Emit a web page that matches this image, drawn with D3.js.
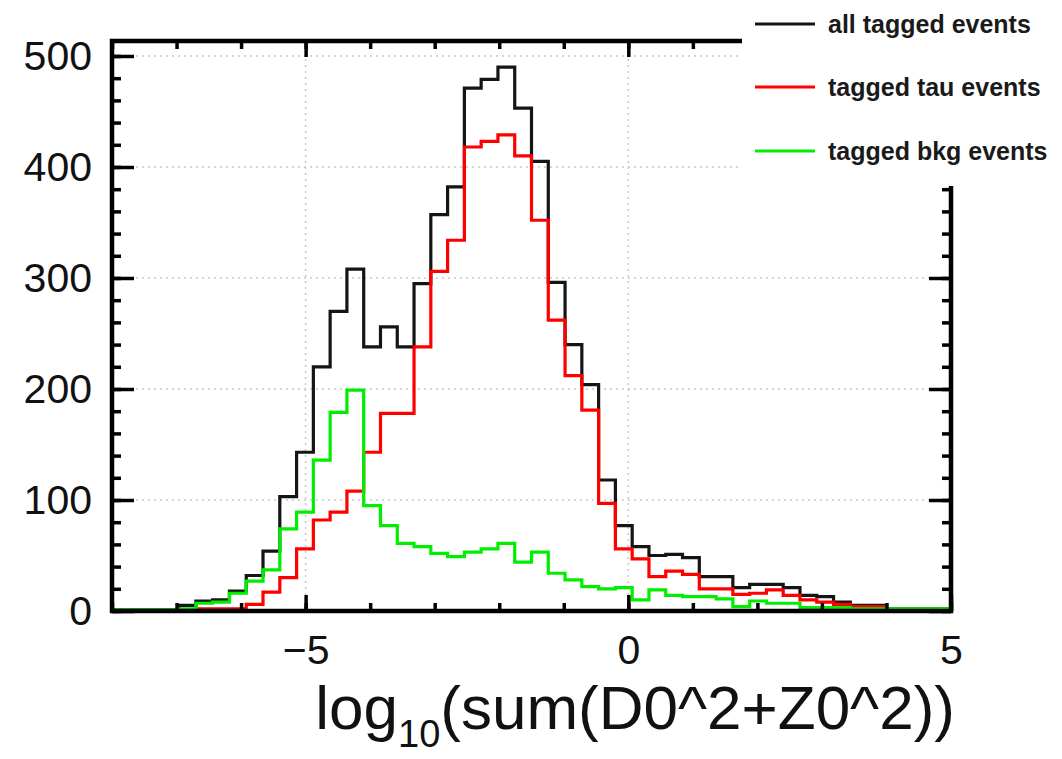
<!DOCTYPE html>
<html>
<head>
<meta charset="utf-8">
<script src="https://cdn.jsdelivr.net/npm/d3@7"></script>
<style>
  html, body { margin: 0; padding: 0; background: #fff; }
  svg { display: block; font-family: "Liberation Sans", Arial, Helvetica, sans-serif; }
</style>
</head>
<body>
<svg id="chart" width="1062" height="759"></svg>
<script>
// Histogram binning: 50 bins spanning the x axis range
const xRange = [-8, 5];
const yRange = [0, 513.5];

// Bin contents, left to right
const allTagged = [1, 1, 1, 1, 5, 9, 10, 18, 32, 54, 103, 143, 220, 270, 308, 238, 256, 238, 295, 357,
  382, 471, 479, 490, 453, 405, 296, 240, 204, 118, 77, 58, 50, 51, 48, 31, 31, 21, 24, 24,
  21, 14, 13, 8, 5, 5, 2, 2, 2, 2];
const tauTagged = [0, 0, 0, 0, 0, 2, 2, 2, 6, 17, 30, 56, 82, 89, 108, 143, 178, 178, 238, 306,
  334, 418, 423, 429, 410, 352, 262, 212, 181, 97, 56, 47, 31, 36, 33, 20, 20, 15, 16, 19,
  14, 10, 8, 6, 4, 4, 1, 1, 0, 0];
const bkgTagged = [1, 1, 1, 1, 2, 7, 8, 16, 27, 37, 74, 89, 136, 179, 199, 95, 77, 61, 58, 52,
  49, 53, 56, 61, 44, 53, 34, 28, 22, 20, 21, 10, 19, 14, 13, 13, 11, 4, 9, 7,
  7, 3, 3, 3, 2, 2, 2, 2, 2, 2];

// Axis ticks
const xMajorTicks = [-5, 0, 5];
const xMinorTicks = [-8, -7, -6, -5, -4, -3, -2, -1, 0, 1, 2, 3, 4, 5];
const yMajorTicks = [0, 100, 200, 300, 400, 500];
const yMinorTicks = d3.range(0, 513, 20);

const legendEntries = ["all tagged events", "tagged tau events", "tagged bkg events"];
const seriesColors = ["#151515", "#ff0000", "#00ee00"];

const frame = { left: 112, right: 951, top: 41, bottom: 611 };

const svg = d3.select("#chart");

const x = d3.scaleLinear().domain(xRange).range([frame.left, frame.right]);
const y = d3.scaleLinear().domain(yRange).range([frame.bottom, frame.top]);

// Grid lines
const grid = svg.append("g").attr("stroke", "#c8c8c8").attr("stroke-width", 1.5)
  .attr("stroke-dasharray", "2,4");
grid.selectAll("line.gy").data(yMajorTicks.filter(v => v > 0)).join("line")
  .attr("x1", frame.left).attr("x2", frame.right)
  .attr("y1", d => y(d)).attr("y2", d => y(d));
grid.selectAll("line.gx").data(xMajorTicks.filter(v => v > xRange[0] && v < xRange[1])).join("line")
  .attr("y1", frame.top).attr("y2", frame.bottom)
  .attr("x1", d => x(d)).attr("x2", d => x(d));

// Step outlines of the three histograms
const nBins = allTagged.length;
const edges = d3.range(nBins + 1).map(i => xRange[0] + i * (xRange[1] - xRange[0]) / nBins);
const stepLine = d3.line().x(d => x(d[0])).y(d => y(d[1])).curve(d3.curveStepAfter);
function outline(counts) {
  const pts = counts.map((c, i) => [edges[i], c]);
  pts.push([edges[nBins], counts[nBins - 1]]);
  return pts;
}
[allTagged, tauTagged, bkgTagged].forEach((counts, i) => {
  svg.append("path")
    .attr("d", stepLine(outline(counts)))
    .attr("fill", "none")
    .attr("stroke", seriesColors[i])
    .attr("stroke-width", 3.2)
    .attr("stroke-linejoin", "miter");
});

// Axes with inward ticks on all four sides
function styleAxis(g) {
  g.select(".domain").remove();
  g.selectAll(".tick line").attr("stroke", "#000").attr("stroke-width", 3.5);
}
const labelFont = 41;

svg.append("g").attr("transform", `translate(${frame.left},0)`)
  .call(d3.axisLeft(y).tickValues(yMinorTicks).tickSize(-9).tickFormat(""))
  .call(styleAxis);
svg.append("g").attr("transform", `translate(${frame.left},0)`)
  .call(d3.axisLeft(y).tickValues(yMajorTicks).tickSize(-22).tickPadding(20).tickFormat(d3.format("d")))
  .call(styleAxis)
  .call(g => g.selectAll("text").attr("font-size", labelFont).attr("fill", "#111"));
svg.append("g").attr("transform", `translate(${frame.right},0)`)
  .call(d3.axisRight(y).tickValues(yMinorTicks).tickSize(-9).tickFormat(""))
  .call(styleAxis);
svg.append("g").attr("transform", `translate(${frame.right},0)`)
  .call(d3.axisRight(y).tickValues(yMajorTicks).tickSize(-22).tickFormat(""))
  .call(styleAxis);

svg.append("g").attr("transform", `translate(0,${frame.bottom})`)
  .call(d3.axisBottom(x).tickValues(xMinorTicks).tickSize(-8).tickFormat(""))
  .call(styleAxis);
svg.append("g").attr("transform", `translate(0,${frame.bottom})`)
  .call(d3.axisBottom(x).tickValues(xMajorTicks).tickSize(-16).tickPadding(24).tickFormat(d3.format("d")))
  .call(styleAxis)
  .call(g => g.selectAll("text").attr("font-size", labelFont).attr("fill", "#111"));
svg.append("g").attr("transform", `translate(0,${frame.top})`)
  .call(d3.axisTop(x).tickValues(xMinorTicks).tickSize(-8).tickFormat(""))
  .call(styleAxis);
svg.append("g").attr("transform", `translate(0,${frame.top})`)
  .call(d3.axisTop(x).tickValues(xMajorTicks).tickSize(-16).tickFormat(""))
  .call(styleAxis);

// Frame
svg.append("rect")
  .attr("x", frame.left).attr("y", frame.top)
  .attr("width", frame.right - frame.left).attr("height", frame.bottom - frame.top)
  .attr("fill", "none").attr("stroke", "#000").attr("stroke-width", 4.5);

// X axis title with subscript
const title = svg.append("text")
  .attr("x", 955).attr("y", 729)
  .attr("text-anchor", "end")
  .attr("font-size", 62).attr("fill", "#111");
title.append("tspan").text("log");
title.append("tspan").attr("font-size", 38).attr("dy", 18).text("10");
title.append("tspan").attr("dy", -18).text("(sum(D0^2+Z0^2))");

// Legend box
const legend = svg.append("g");
legend.append("rect").attr("x", 742).attr("y", 0).attr("width", 320).attr("height", 186)
  .attr("fill", "#fff");
const legendY = [24, 87, 151];
legend.selectAll("line.entry").data(legendEntries).join("line")
  .attr("x1", 755).attr("x2", 815)
  .attr("y1", (d, i) => legendY[i]).attr("y2", (d, i) => legendY[i])
  .attr("stroke", (d, i) => seriesColors[i]).attr("stroke-width", 3);
legend.selectAll("text.entry").data(legendEntries).join("text")
  .attr("x", 828).attr("y", (d, i) => legendY[i] + 9)
  .attr("font-size", 25).attr("font-weight", "bold").attr("fill", "#1a1a1a")
  .text(d => d);
</script>
</body>
</html>
